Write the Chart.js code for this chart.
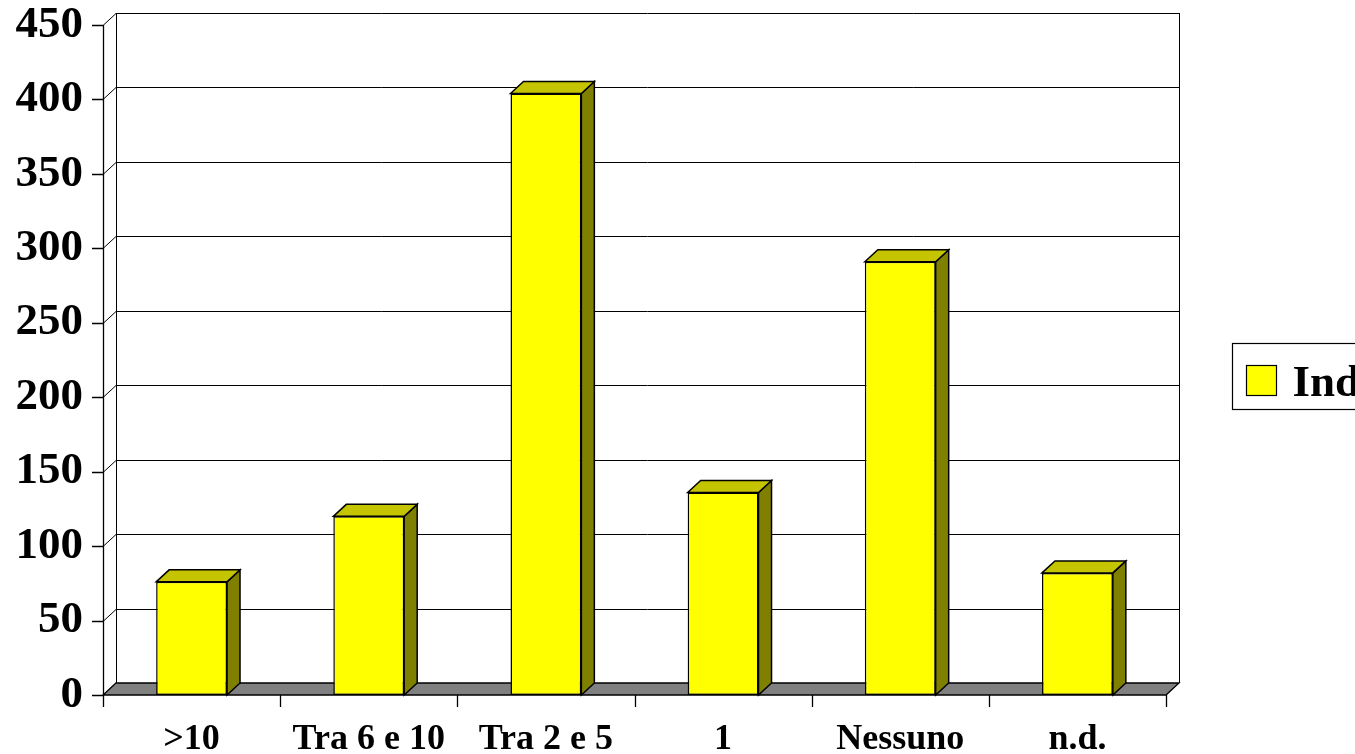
<!DOCTYPE html>
<html>
<head>
<meta charset="utf-8">
<script src="https://cdn.jsdelivr.net/npm/chart.js@4.4.1/dist/chart.umd.min.js"></script>
<style>
  html, body { margin: 0; padding: 0; background: #fff; }
  #wrap { width: 1355px; height: 754px; position: relative; }
</style>
</head>
<body>
<div id="wrap"><canvas id="c"></canvas></div>
<script>
const categories = ['>10', 'Tra 6 e 10', 'Tra 2 e 5', '1', 'Nessuno', 'n.d.'];
const values = [76, 120, 404, 136, 291, 82];
const yTickValues = [0, 50, 100, 150, 200, 250, 300, 350, 400, 450];
const seriesLabel = 'Individui';

const DX = 13, DY = -12;
const FONT = '"Liberation Serif", "Times New Roman", serif';

const threeD = {
  id: 'threeD',
  beforeDatasetsDraw(chart) {
    const ctx = chart.ctx;
    const xs = chart.scales.x, ys = chart.scales.y;
    const L = chart.chartArea.left, R = chart.chartArea.right;
    const y0 = ys.getPixelForValue(0);
    const yT = ys.getPixelForValue(yTickValues[yTickValues.length - 1]);
    ctx.save();
    ctx.strokeStyle = '#000';
    ctx.lineWidth = 1;
    // back wall gridlines + left wall diagonals
    yTickValues.forEach(v => {
      const y = Math.round(ys.getPixelForValue(v)) + 0.5;
      ctx.beginPath();
      ctx.moveTo(L + DX, y + DY);
      ctx.lineTo(R + DX, y + DY);
      ctx.stroke();
      ctx.beginPath();
      ctx.moveTo(L, y);
      ctx.lineTo(L + DX, y + DY);
      ctx.stroke();
    });
    // back wall verticals
    ctx.beginPath();
    ctx.moveTo(L + DX + 0.5, y0 + DY);
    ctx.lineTo(L + DX + 0.5, yT + DY);
    ctx.moveTo(R + DX + 0.5, y0 + DY);
    ctx.lineTo(R + DX + 0.5, yT + DY);
    ctx.stroke();
    // floor
    ctx.beginPath();
    ctx.moveTo(L, y0);
    ctx.lineTo(R, y0);
    ctx.lineTo(R + DX, y0 + DY);
    ctx.lineTo(L + DX, y0 + DY);
    ctx.closePath();
    ctx.fillStyle = '#808080';
    ctx.fill();
    ctx.lineWidth = 1.3;
    ctx.stroke();
    // front value axis + ticks
    ctx.beginPath();
    ctx.moveTo(L + 0.5, yT);
    ctx.lineTo(L + 0.5, y0 + 12);
    yTickValues.forEach(v => {
      const y = Math.round(ys.getPixelForValue(v)) + 0.5;
      ctx.moveTo(L - 11, y);
      ctx.lineTo(L, y);
    });
    // category ticks
    for (let i = 0; i <= categories.length; i++) {
      const x = Math.round(xs.getPixelForValue(i - 0.5)) + 0.5;
      ctx.moveTo(x, y0);
      ctx.lineTo(x, y0 + 12);
    }
    ctx.stroke();
    // bar side + top faces
    const meta = chart.getDatasetMeta(0);
    ctx.lineWidth = 1.5;
    meta.data.forEach(bar => {
      const p = bar.getProps(['x', 'y', 'base', 'width'], true);
      const x1 = p.x - p.width / 2, x2 = p.x + p.width / 2;
      ctx.beginPath();
      ctx.moveTo(x2, p.y);
      ctx.lineTo(x2 + DX, p.y + DY);
      ctx.lineTo(x2 + DX, p.base + DY);
      ctx.lineTo(x2, p.base);
      ctx.closePath();
      ctx.fillStyle = '#808000';
      ctx.fill();
      ctx.stroke();
      ctx.beginPath();
      ctx.moveTo(x1, p.y);
      ctx.lineTo(x1 + DX, p.y + DY);
      ctx.lineTo(x2 + DX, p.y + DY);
      ctx.lineTo(x2, p.y);
      ctx.closePath();
      ctx.fillStyle = '#c4c400';
      ctx.fill();
      ctx.stroke();
    });
    ctx.restore();
  },
  afterDraw(chart) {
    const ctx = chart.ctx;
    const R = chart.chartArea.right;
    const ds = chart.data.datasets[0];
    ctx.save();
    ctx.strokeStyle = '#000';
    ctx.lineWidth = 1.2;
    const bx = R + 66.5, by = 343.5;
    ctx.strokeRect(bx, by, 300, 66);
    ctx.fillStyle = ds.backgroundColor;
    ctx.fillRect(bx + 14, by + 22, 30, 30);
    ctx.strokeRect(bx + 14, by + 22, 30, 30);
    ctx.fillStyle = '#000';
    ctx.font = 'bold 45px ' + FONT;
    ctx.textBaseline = 'alphabetic';
    ctx.textAlign = 'left';
    ctx.fillText(ds.label, bx + 60, by + 52);
    ctx.restore();
  }
};

function zeroPad(scale) {
  scale.paddingTop = 0;
  scale.paddingBottom = 0;
  scale.paddingLeft = 0;
  scale.paddingRight = 0;
}

new Chart(document.getElementById('c'), {
  type: 'bar',
  data: {
    labels: categories,
    datasets: [{
      label: seriesLabel,
      data: values,
      backgroundColor: '#ffff00',
      borderColor: '#000000',
      borderWidth: 1.5,
      borderSkipped: false,
      categoryPercentage: 1.0,
      barPercentage: 0.4
    }]
  },
  options: {
    responsive: true,
    maintainAspectRatio: false,
    animation: false,
    layout: { padding: { left: 0, right: 189, top: 25, bottom: 0 } },
    plugins: { legend: { display: false }, tooltip: { enabled: false } },
    scales: {
      x: {
        grid: { display: false, drawTicks: false },
        border: { display: false },
        ticks: {
          color: '#000',
          padding: 27,
          maxRotation: 0,
          autoSkip: false,
          font: { family: FONT, size: 36, weight: 'bold', lineHeight: 1 }
        },
        afterFit(scale) { scale.height = 59; zeroPad(scale); }
      },
      y: {
        min: 0,
        max: 450,
        grid: { display: false, drawTicks: false },
        border: { display: false },
        ticks: {
          color: '#000',
          stepSize: 50,
          padding: 20,
          font: { family: FONT, size: 45, weight: 'bold', lineHeight: 1 }
        },
        afterFit(scale) { scale.width = 103; zeroPad(scale); }
      }
    }
  },
  plugins: [threeD]
});
</script>
</body>
</html>
